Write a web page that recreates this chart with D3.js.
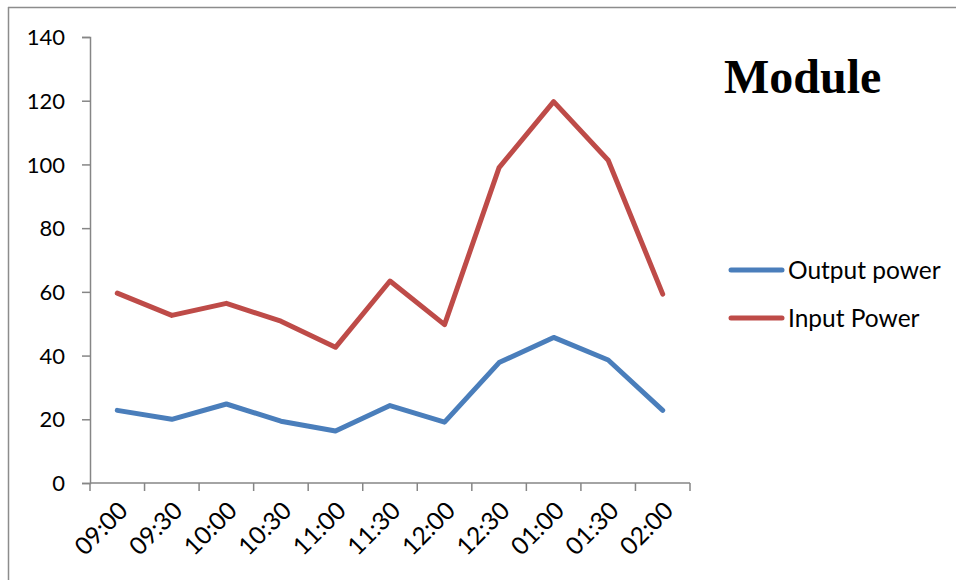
<!DOCTYPE html>
<html>
<head>
<meta charset="utf-8">
<script src="https://cdn.jsdelivr.net/npm/d3@7"></script>
<style>
  html, body { margin: 0; padding: 0; background: #fff; }
  svg { display: block; }
</style>
</head>
<body>
<svg id="chart" width="956" height="580"></svg>
<script>
// Sampling times
const times = ["09:00", "09:30", "10:00", "10:30", "11:00", "11:30", "12:00", "12:30", "01:00", "01:30", "02:00"];
// Measured power per sample
const outputPower = [22.8, 20, 24.8, 19.4, 16.3, 24.3, 19.1, 37.8, 45.7, 38.6, 22.8];
const inputPower  = [59.6, 52.6, 56.4, 50.8, 42.6, 63.4, 49.7, 99, 119.7, 101.3, 59.3];
// Value axis ticks
const yTicks = [0, 20, 40, 60, 80, 100, 120, 140];
const seriesNames = ["Output power", "Input Power"];
const seriesColors = ["#4a7ebb", "#be4b48"];

const svg = d3.select("#chart");
const font = "Lato, 'Noto Sans', sans-serif";
const axisColor = "#868686";

// Chart area border (top and left edges)
svg.append("line").attr("x1", 8).attr("x2", 956).attr("y1", 7.5).attr("y2", 7.5)
  .attr("stroke", "#8c8c8c").attr("stroke-width", 1.5);
svg.append("line").attr("x1", 8.5).attr("x2", 8.5).attr("y1", 7).attr("y2", 580)
  .attr("stroke", "#8c8c8c").attr("stroke-width", 1.5);

const plot = { left: 90, right: 690, top: 37, bottom: 483 };

const x = d3.scaleBand().domain(times).range([plot.left, plot.right]).padding(0);
const y = d3.scaleLinear().domain([0, 140]).range([plot.bottom, plot.top]);

// Y axis
const yAxis = svg.append("g")
  .attr("transform", `translate(${plot.left},0)`)
  .call(d3.axisLeft(y).tickValues(yTicks).tickSize(8).tickPadding(17).tickFormat(d3.format("d")));
yAxis.select(".domain").attr("stroke", axisColor).attr("stroke-width", 1.5);
yAxis.selectAll(".tick line").attr("stroke", axisColor).attr("stroke-width", 1.5);
yAxis.selectAll(".tick text").attr("font-family", font).attr("font-size", 22).attr("fill", "#000")
  .attr("dy", "0.35em");

// X axis with ticks on band boundaries
const xAxisG = svg.append("g").attr("transform", `translate(0,${plot.bottom})`);
xAxisG.append("line").attr("x1", plot.left).attr("x2", plot.right).attr("y1", 0).attr("y2", 0)
  .attr("stroke", axisColor).attr("stroke-width", 1.5);
const boundaries = times.map(t => x(t)).concat([plot.right]);
xAxisG.selectAll("line.tick").data(boundaries).enter().append("line")
  .attr("class", "tick")
  .attr("x1", d => d).attr("x2", d => d).attr("y1", 0).attr("y2", 8)
  .attr("stroke", axisColor).attr("stroke-width", 1.5);
xAxisG.selectAll("text").data(times).enter().append("text")
  .attr("transform", d => `translate(${x(d) + x.bandwidth() / 2},${17}) rotate(-45)`)
  .attr("text-anchor", "end")
  .attr("dy", "0.7em")
  .attr("font-family", font).attr("font-size", 24.5).attr("fill", "#000")
  .text(d => d);

// Series lines
const line = d3.line()
  .x((d, i) => x(times[i]) + x.bandwidth() / 2)
  .y(d => y(d));
[outputPower, inputPower].forEach((vals, i) => {
  svg.append("path").datum(vals)
    .attr("d", line)
    .attr("fill", "none")
    .attr("stroke", seriesColors[i])
    .attr("stroke-width", 5)
    .attr("stroke-linejoin", "round")
    .attr("stroke-linecap", "round");
});

// Title
svg.append("text").attr("x", 724).attr("y", 93)
  .attr("font-family", "'Liberation Serif', 'DejaVu Serif', serif")
  .attr("font-weight", "bold").attr("font-size", 48).attr("fill", "#000")
  .text("Module");

// Legend
const legend = svg.append("g");
seriesNames.forEach((name, i) => {
  const ly = 270 + i * 48;
  legend.append("line").attr("x1", 731).attr("x2", 782).attr("y1", ly).attr("y2", ly)
    .attr("stroke", seriesColors[i]).attr("stroke-width", 5).attr("stroke-linecap", "round");
  legend.append("text").attr("x", 788).attr("y", ly).attr("dy", "0.35em")
    .attr("font-family", font).attr("font-size", 24.5).attr("fill", "#000")
    .text(name);
});
</script>
</body>
</html>
